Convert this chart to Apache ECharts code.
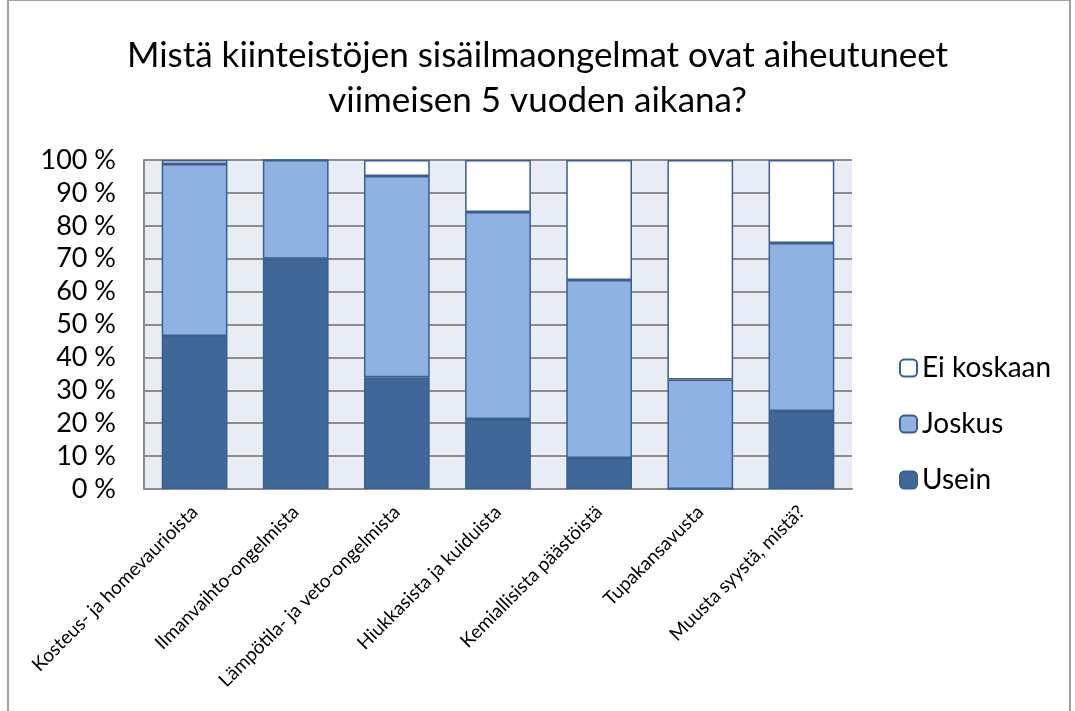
<!DOCTYPE html>
<html>
<head>
<meta charset="utf-8">
<script src="https://cdn.jsdelivr.net/npm/echarts@6/dist/echarts.min.js"></script>
<style>
  html, body { margin: 0; padding: 0; background: #fff; }
  #chart { width: 1075px; height: 711px; }
</style>
</head>
<body>
<div id="chart"></div>
<script>
// kategoriat ja osuudet (%)
var categories = [
  'Kosteus- ja homevaurioista',
  'Ilmanvaihto-ongelmista',
  'Lämpötila- ja veto-ongelmista',
  'Hiukkasista ja kuiduista',
  'Kemiallisista päästöistä',
  'Tupakansavusta',
  'Muusta syystä, mistä?'
];
var usein = [46.5, 70, 34, 21.3, 9.4, 0, 23.7];
var joskus = [52.3, 30, 61.1, 62.9, 54.1, 33.3, 51.1];
var eiKoskaan = [1.2, 0, 4.9, 15.8, 36.5, 66.7, 25.2];
var yTicks = [0, 10, 20, 30, 40, 50, 60, 70, 80, 90, 100];

var font = 'Lato, "Open Sans", sans-serif';
var barBorder = '#3A5F8F';

var myChart = echarts.init(document.getElementById('chart'));
var option = {
  animation: false,
  textStyle: { fontFamily: font },
  title: {
    text: 'Mistä kiinteistöjen sisäilmaongelmat ovat aiheutuneet\nviimeisen 5 vuoden aikana?',
    left: 'center',
    top: 28,
    textStyle: {
      fontFamily: font,
      fontSize: 35,
      fontWeight: 'normal',
      color: '#000',
      lineHeight: 45
    }
  },
  legend: {
    orient: 'vertical',
    left: 894,
    top: 349,
    itemWidth: 17,
    itemHeight: 17,
    itemGap: 28,
    data: ['Ei koskaan', 'Joskus', 'Usein'],
    textStyle: { fontFamily: font, fontSize: 28, color: '#000' }
  },
  grid: {
    left: 144,
    right: 223,
    top: 160,
    bottom: 222,
    show: true,
    backgroundColor: '#E8ECF4',
    borderWidth: 0
  },
  xAxis: {
    type: 'category',
    data: categories,
    axisLine: { show: true, lineStyle: { color: '#8C8C8C', width: 2 } },
    axisTick: { show: false },
    axisLabel: {
      interval: 0,
      rotate: 45,
      fontSize: 19,
      color: '#000',
      margin: 20
    }
  },
  yAxis: {
    type: 'value',
    min: yTicks[0],
    max: yTicks[yTicks.length - 1],
    interval: 10,
    axisLine: { show: true, lineStyle: { color: '#8C8C8C', width: 2 } },
    axisTick: { show: false },
    axisLabel: {
      formatter: '{value} %',
      fontSize: 27,
      color: '#000',
      margin: 28
    },
    splitLine: { show: true, lineStyle: { color: '#8C8C8C', width: 2 } }
  },
  series: [
    {
      name: 'Usein',
      type: 'bar',
      stack: 'total',
      barWidth: '65%',
      itemStyle: { color: '#3F6899', borderColor: barBorder, borderWidth: 1.5 },
      data: usein
    },
    {
      name: 'Joskus',
      type: 'bar',
      stack: 'total',
      itemStyle: { color: '#8EB3E2', borderColor: barBorder, borderWidth: 1.5 },
      data: joskus
    },
    {
      name: 'Ei koskaan',
      type: 'bar',
      stack: 'total',
      itemStyle: { color: '#FFFFFF', borderColor: barBorder, borderWidth: 1.5 },
      data: eiKoskaan
    }
  ],
  graphic: [{
    type: 'rect',
    shape: { x: 8, y: 0, width: 1062, height: 720 },
    style: { fill: 'none', stroke: '#A0A0A0', lineWidth: 2 },
    silent: true
  }]
};
myChart.setOption(option);
</script>
</body>
</html>
